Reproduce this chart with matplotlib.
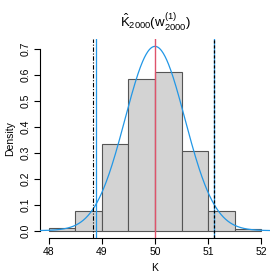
import numpy as np
import matplotlib
matplotlib.use("Agg")
import matplotlib.pyplot as plt

plt.rcParams.update({"font.family": ["Liberation Sans", "DejaVu Sans"],
                     "mathtext.fontset": "custom",
                     "mathtext.rm": "Liberation Sans",
                     "mathtext.it": "Liberation Sans",
                     "mathtext.bf": "Liberation Sans:bold"})

# histogram of the estimates (density scale)
bin_edges = [48.0, 48.5, 49.0, 49.5, 50.0, 50.5, 51.0, 51.5, 52.0]
densities = [0.012, 0.075, 0.335, 0.585, 0.610, 0.305, 0.075, 0.005]

# normal approximation
norm_mean = 50.0
norm_sd = 0.562

# reference lines
true_value = 50.0
ci_normal = [48.89, 51.10]     # blue solid
ci_lower_emp = 48.83           # black dot-dash
ci_upper_emp = 51.115          # black dashed

RED = "#DF536B"
BLUE = "#2297E6"

fig = plt.figure(figsize=(2.78, 2.78), dpi=100)
ax = fig.add_axes([40 / 278, 1 - 238 / 278, 230 / 278, 199 / 278])

edges = np.array(bin_edges)
ax.bar(edges[:-1], densities, width=np.diff(edges), align="edge",
       color="#D3D3D3", edgecolor="#555555", linewidth=0.8, zorder=1)

xlo, xhi = 48 - 0.16, 52 + 0.16
xs = np.linspace(xlo, xhi, 400)
ys = np.exp(-0.5 * ((xs - norm_mean) / norm_sd) ** 2) / (norm_sd * np.sqrt(2 * np.pi))
ax.plot(xs, ys, color=BLUE, lw=0.9, zorder=3)

ax.axvline(true_value, color=RED, lw=1.0, zorder=4)
for v in ci_normal:
    ax.axvline(v, color=BLUE, lw=0.9, zorder=4)
ax.axvline(ci_lower_emp, color="black", lw=0.8, ls=(0, (4, 1.5, 1, 1.5)), zorder=4)
ax.axvline(ci_upper_emp, color="black", lw=0.9, ls=(0, (2.5, 1.5)), zorder=4)

ymax = ys.max()
ax.set_xlim(xlo, xhi)
ax.set_ylim(-0.04 * ymax, 1.04 * ymax)

for s in ["top", "right"]:
    ax.spines[s].set_visible(False)
ax.spines["left"].set_bounds(0, 0.7)
ax.spines["bottom"].set_bounds(48, 52)
for s in ["left", "bottom"]:
    ax.spines[s].set_linewidth(0.8)

ax.set_xticks([48, 49, 50, 51, 52])
ax.set_yticks(np.arange(0, 0.71, 0.1))
ax.set_yticklabels([f"{v:.1f}" for v in np.arange(0, 0.71, 0.1)],
                   rotation=90, va="center")
ax.tick_params(labelsize=7.5, length=4, width=0.8, pad=2.5)
ax.set_xlabel("K", fontsize=7.5, labelpad=4)
ax.set_ylabel("Density", fontsize=7.5, labelpad=4)
ax.set_title(r"$\hat{\mathrm{K}}_{2000}(\mathrm{w}^{(1)}_{2000})$",
             fontsize=9.5, pad=9)

fig.savefig("out.png", dpi=100, facecolor="white")
